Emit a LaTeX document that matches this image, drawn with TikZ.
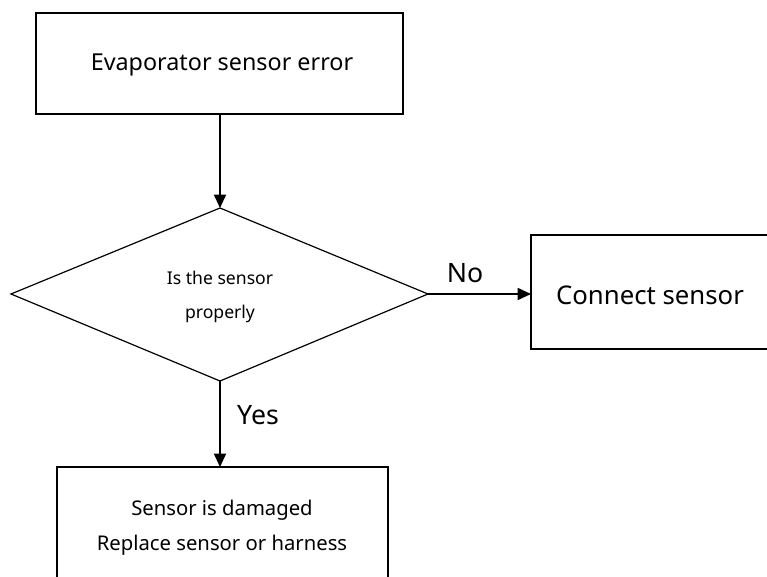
\documentclass[tikz,border=0pt]{standalone}
\usepackage{fontspec}
\setmainfont{Noto Sans}
\usetikzlibrary{arrows.meta}
\begin{document}
\begin{tikzpicture}[x=0.75pt,y=-0.75pt,
  box/.style={draw,line width=1pt},
  conn/.style={draw,line width=1.3pt,-{Triangle[length=10pt,width=9pt]}},
  lab/.style={inner sep=0pt,font=\fontsize{20}{24}\selectfont}]
\useasboundingbox (0,0) rectangle (767,577);
\draw[box] (36,13) rectangle (403,114);
\node[inner sep=0pt,font=\fontsize{17.5}{20}\selectfont] (top) at (222,65) {Evaporator sensor error};
\coordinate (topb) at (220,114);
\draw[line width=0.9pt] (220,208) coordinate (dt) -- (428,294) coordinate (dr) -- (220,381) coordinate (db) -- (11,294) -- cycle;
\node[inner sep=0pt,align=center,font=\fontsize{13.2}{25}\selectfont] (q) at (220,297) {Is the sensor\\properly};
\draw[box] (790,235) -- (531,235) -- (531,349) -- (790,349);
\coordinate (cl) at (531,294);
\node[inner sep=0pt,font=\fontsize{19.3}{22}\selectfont] (cs) at (650,295) {Connect sensor};
\draw[box] (57,590) -- (57,467) -- (388,467) -- (388,590);
\coordinate (bt) at (220,467);
\node[inner sep=0pt,align=center,font=\fontsize{15.2}{26.5}\selectfont] (dm) at (222,528) {Sensor is damaged\\Replace sensor or harness};
\draw[conn] (topb) -- (dt);
\draw[conn] (dr) -- (cl);
\draw[conn] (db) -- (bt);
\node[lab] (no) at (465,273) {No};
\node[lab] (yes) at (258,415) {Yes};
\end{tikzpicture}
\end{document}
